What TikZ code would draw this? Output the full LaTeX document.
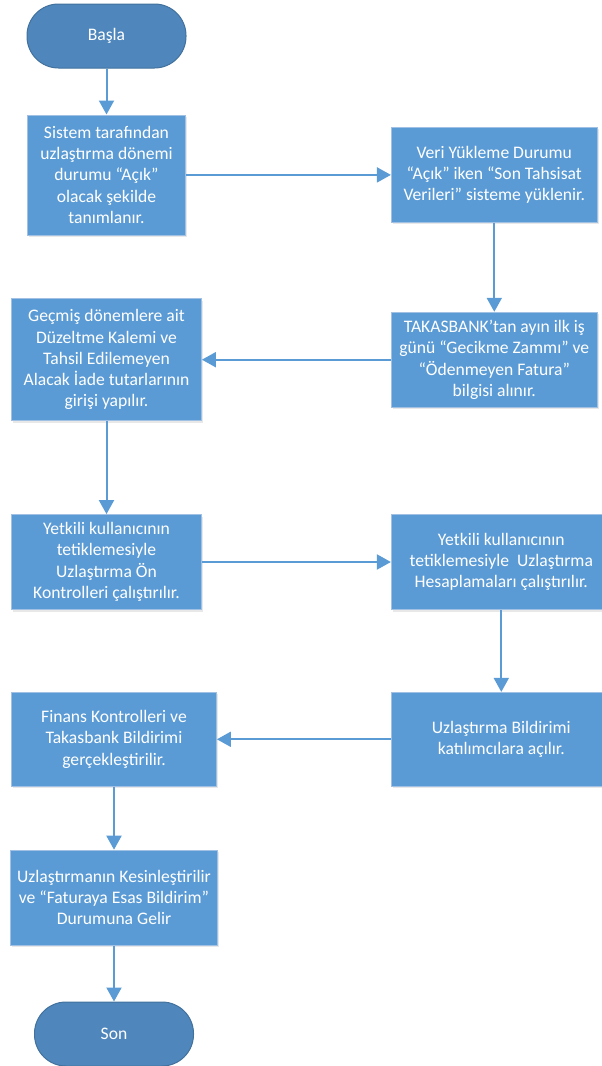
\documentclass[tikz,border=0pt]{standalone}
\usepackage{fontspec}
\setmainfont{Carlito}
\usepackage{xcolor}
\usepackage{tikz}
\usetikzlibrary{arrows.meta, positioning, shadows}
\definecolor{boxblue}{RGB}{91,155,213}
\definecolor{boxline}{RGB}{160,192,228}
\definecolor{termblue}{RGB}{79,135,189}
\definecolor{termline}{RGB}{65,113,156}
\newcommand{\flowfont}{\fontsize{17.6}{21.3}\selectfont}
\tikzset{
  % Flowchart styles
  terminal/.style={rectangle, rounded corners=31.5pt, minimum width=159pt, minimum height=64pt, text centered, draw=termline, line width=1pt, fill=termblue, text=white, font=\flowfont},
  procbox/.style={rectangle, minimum width=#1, minimum height=95pt, inner sep=2pt, align=center, draw=boxline, line width=0.8pt, fill=boxblue, text=white, font=\flowfont, drop shadow={shadow xshift=1.5pt, shadow yshift=-2pt, opacity=0.18}},
  procbox/.default={206pt},
  arrow/.style={-{Triangle[length=14pt, width=15pt]}, line width=2pt, draw=boxblue},
}

\begin{document}
\begin{tikzpicture}[x=1pt, y=1pt]
    \useasboundingbox (0,0) rectangle (602,-1066);

    % Start
    \node[terminal] (start) at (106.5,-36) {Başla};

    % Open period
    \node[procbox=158pt, minimum height=120pt, below=46pt of start] (sysdef) {Sistem tarafından\\uzlaştırma dönemi\\durumu “Açık”\\olacak şekilde\\tanımlanır.};

    % Load allocation data
    \node[procbox, right=205pt of sysdef] (dataload) {Veri Yükleme Durumu\\“Açık” iken “Son Tahsisat\\Verileri” sisteme yüklenir.};

    % Takasbank info
    \node[procbox, below=89pt of dataload] (takasbank) {TAKASBANK’tan ayın ilk iş\\günü “Gecikme Zammı” ve\\“Ödenmeyen Fatura”\\bilgisi alınır.};

    % Past period entries
    \node[procbox=190pt, minimum height=122pt, left=189pt of takasbank] (pastentry) {Geçmiş dönemlere ait\\Düzeltme Kalemi ve\\Tahsil Edilemeyen\\Alacak İade tutarlarının\\girişi yapılır.};

    % Pre checks
    \node[procbox=190pt, below=93pt of pastentry] (precheck) {Yetkili kullanıcının\\tetiklemesiyle\\Uzlaştırma Ön\\Kontrolleri çalıştırılır.};

    % Calculations
    \node[procbox=220pt, right=189pt of precheck] (calc) {Yetkili kullanıcının\\tetiklemesiyle~ Uzlaştırma\\Hesaplamaları çalıştırılır.};

    % Notify participants
    \node[procbox=220pt, minimum height=94pt, below=82pt of calc] (notify) {Uzlaştırma Bildirimi\\katılımcılara açılır.};

    % Finance checks
    \node[procbox=205pt, minimum height=94pt, left=174pt of notify] (finance) {Finans Kontrolleri ve\\Takasbank Bildirimi\\gerçekleştirilir.};

    % Finalize
    \node[procbox=207pt, below=63pt of finance] (finalize) {Uzlaştırmanın Kesinleştirilir\\ve “Faturaya Esas Bildirim”\\Durumuna Gelir};

    % End
    \node[terminal, below=56pt of finalize] (end) {Son};

% === Arrows ===
    \draw[arrow] (start) -- (sysdef);
    \draw[arrow] (sysdef) -- (dataload);
    \draw[arrow] (dataload) -- (takasbank);
    \draw[arrow] (takasbank) -- (pastentry);
    \draw[arrow] (pastentry) -- (precheck);
    \draw[arrow] (precheck) -- (calc);
    \draw[arrow] (calc) -- (notify);
    \draw[arrow] (notify) -- (finance);
    \draw[arrow] (finance) -- (finalize);
    \draw[arrow] (finalize) -- (end);
  \end{tikzpicture}
\end{document}
